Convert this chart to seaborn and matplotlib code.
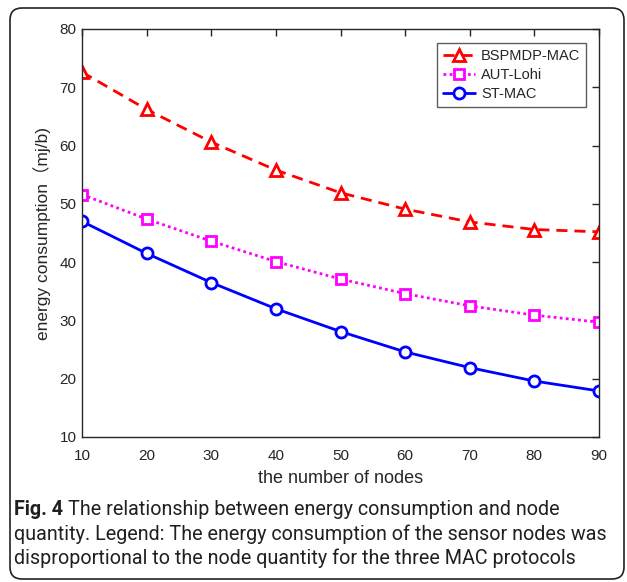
import matplotlib
matplotlib.use("Agg")
import matplotlib.pyplot as plt
import seaborn as sns
import pandas as pd
from matplotlib.patches import FancyBboxPatch
from matplotlib.transforms import IdentityTransform

nodes = [10, 20, 30, 40, 50, 60, 70, 80, 90]
bspmdp = [72.6, 66.2, 60.6, 55.8, 51.9, 49.1, 46.9, 45.6, 45.2]
aut_lohi = [51.6, 47.4, 43.6, 40.1, 37.1, 34.6, 32.5, 30.9, 29.7]
st_mac = [47.0, 41.5, 36.5, 32.0, 28.1, 24.6, 21.9, 19.6, 17.9]
series_names = ["BSPMDP-MAC", "AUT-Lohi", "ST-MAC"]
x_ticks = [10, 20, 30, 40, 50, 60, 70, 80, 90]
y_ticks = [10, 20, 30, 40, 50, 60, 70, 80]
caption_lines = [
    "The relationship between energy consumption and node",
    "quantity. Legend: The energy consumption of the sensor nodes was",
    "disproportional to the node quantity for the three MAC protocols",
]

df = pd.DataFrame({
    "nodes": nodes * 3,
    "energy": bspmdp + aut_lohi + st_mac,
    "protocol": [series_names[0]] * len(nodes) + [series_names[1]] * len(nodes) + [series_names[2]] * len(nodes),
})

sns.set_theme(style="white")
plt.rcParams["font.family"] = ["Liberation Sans", "Noto Sans CJK SC", "DejaVu Sans"]

fig = plt.figure(figsize=(6.27, 5.82), dpi=100)
ax = fig.add_axes([82 / 627, 1 - 437 / 582, (599 - 82) / 627, (437 - 29) / 582])

colors = {"BSPMDP-MAC": "#ff0000", "AUT-Lohi": "#ff00ff", "ST-MAC": "#0000ff"}
dashes = {"BSPMDP-MAC": (4, 2.5), "AUT-Lohi": (1, 1.2), "ST-MAC": None}
markers = {"BSPMDP-MAC": "^", "AUT-Lohi": "s", "ST-MAC": "o"}
msizes = {"BSPMDP-MAC": 9, "AUT-Lohi": 6.5, "ST-MAC": 8}

for name in series_names:
    sub = df[df["protocol"] == name]
    sns.lineplot(data=sub, x="nodes", y="energy", ax=ax, color=colors[name],
                 linewidth=2.0, marker=markers[name], markersize=msizes[name],
                 markerfacecolor="white", markeredgecolor=colors[name],
                 markeredgewidth=2.0, label=name)

for line, name in zip(ax.get_lines(), series_names):
    if dashes[name] is None:
        line.set_linestyle("-")
    else:
        line.set_dashes(dashes[name])

ax.set_xlim(10, 90)
ax.set_ylim(10, 80)
ax.set_xticks(x_ticks)
ax.set_yticks(y_ticks)
ax.tick_params(direction="in", length=5, width=1, top=True, right=True,
               labelsize=11, colors="#262626", pad=4)
ax.tick_params(axis="x", pad=9)
for lbl in ax.get_xticklabels() + ax.get_yticklabels():
    lbl.set_color("#262626")
for s in ax.spines.values():
    s.set_visible(True)
    s.set_color("#262626")
    s.set_linewidth(1.0)
ax.set_xlabel("the number of nodes", fontsize=13, color="#262626", labelpad=5)
ax.set_ylabel("energy consumption（mj/b)", fontsize=12.5, color="#262626", labelpad=6)

leg = ax.legend(loc="upper right", bbox_to_anchor=(0.975, 0.965), fontsize=10.5,
                frameon=True, fancybox=False, handlelength=2.2, handletextpad=0.4,
                borderpad=0.4, labelspacing=0.35, borderaxespad=0)
leg.get_frame().set_edgecolor("#333333")
leg.get_frame().set_linewidth(1.0)

# border around figure
border = FancyBboxPatch((10, 3), 614, 571, boxstyle="round,pad=0,rounding_size=12",
                        transform=IdentityTransform(), fill=False,
                        edgecolor="#222222", linewidth=1.2)
fig.add_artist(border)

# caption, font size fitted so the longest line spans ~597 px like the reference
cap_font = ["Roboto", "DejaVu Sans"]
fs = 14.0
x0 = 14 / 627
probe = fig.text(x0, 0.5, caption_lines[1], fontsize=fs, family=cap_font)
fig.canvas.draw()
w = probe.get_window_extent().width
probe.remove()
fs = fs * 596.0 / w

ys = [1 - 515 / 582, 1 - 539.5 / 582, 1 - 564 / 582]
t = fig.text(x0, ys[0], "Fig. 4", fontsize=fs, fontweight="bold", family=cap_font,
             va="baseline", ha="left", color="#231f20")
fig.canvas.draw()
bb = t.get_window_extent()
fig.text((bb.x1 + 5) / 627, ys[0], caption_lines[0],
         fontsize=fs, family=cap_font, va="baseline", ha="left", color="#231f20")
fig.text(x0, ys[1], caption_lines[1],
         fontsize=fs, family=cap_font, va="baseline", ha="left", color="#231f20")
fig.text(x0, ys[2], caption_lines[2],
         fontsize=fs, family=cap_font, va="baseline", ha="left", color="#231f20")

fig.savefig("out.png", dpi=100)
